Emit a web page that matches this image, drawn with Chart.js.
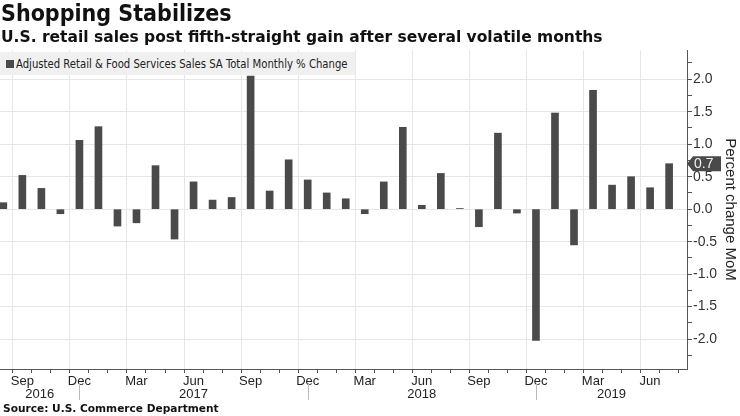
<!DOCTYPE html>
<html>
<head>
<meta charset="utf-8">
<script src="https://cdn.jsdelivr.net/npm/chart.js@4/dist/chart.umd.min.js"></script>
<style>
  html, body { margin: 0; padding: 0; background: #fff; }
  #wrap { position: relative; width: 740px; height: 416px; overflow: hidden; }
  canvas { position: absolute; left: 0; top: 0; }
  #legend { position: absolute; left: 0; top: 52px; width: 355px; height: 23px; background: #f0f0f0;
            font-family: 'Liberation Sans Narrow', 'DejaVu Sans Condensed', sans-serif; font-size: 12.4px; color: #222;
            line-height: 23px; white-space: nowrap; }
  #legend .sw { position: absolute; left: 6px; top: 8px; width: 8px; height: 8px; background: #4a4a4a; }
  #legend .tx { position: absolute; left: 16px; top: 0; transform: scaleX(0.905); transform-origin: 0 50%; }
</style>
</head>
<body>
<div id="wrap">
  <canvas id="c" width="740" height="416"></canvas>
  <div id="legend"><span class="sw"></span><span class="tx" id="legendText"></span></div>
</div>
<script>
const title = 'Shopping Stabilizes';
const subtitle = 'U.S. retail sales post fifth-straight gain after several volatile months';
const source = 'Source: U.S. Commerce Department';
const seriesName = 'Adjusted Retail & Food Services Sales SA Total Monthly % Change';
const axisTitle = 'Percent change MoM';

const categories = [
  'Aug 2016','Sep 2016','Oct 2016','Nov 2016','Dec 2016',
  'Jan 2017','Feb 2017','Mar 2017','Apr 2017','May 2017','Jun 2017','Jul 2017','Aug 2017','Sep 2017','Oct 2017','Nov 2017','Dec 2017',
  'Jan 2018','Feb 2018','Mar 2018','Apr 2018','May 2018','Jun 2018','Jul 2018','Aug 2018','Sep 2018','Oct 2018','Nov 2018','Dec 2018',
  'Jan 2019','Feb 2019','Mar 2019','Apr 2019','May 2019','Jun 2019','Jul 2019'
];
const values = [
  0.10, 0.52, 0.32, -0.07, 1.06,
  1.27, -0.26, -0.21, 0.67, -0.46, 0.42, 0.14, 0.18, 2.05, 0.28, 0.76, 0.45,
  0.25, 0.16, -0.07, 0.42, 1.26, 0.06, 0.55, 0.01, -0.27, 1.17, -0.06, -2.02,
  1.48, -0.55, 1.83, 0.37, 0.50, 0.33, 0.70
];
const tickMonths = ['Sep', 'Dec', 'Mar', 'Jun'];
const yearLabels = ['2016', '2017', '2018', '2019'];
const yTickLabels = [-2.0, -1.5, -1.0, -0.5, 0.0, 0.5, 1.0, 1.5, 2.0];

document.getElementById('legendText').textContent = seriesName;

const BAR = '#4a4a4a';
const GRID = '#e6e6e6';
const AXIS = '#555';
const TXT = '#222';
const FONT = "'Liberation Sans', Arial, sans-serif";

const monthOf = i => (categories[i] || '').split(' ')[0];
const isMajorY = v => yTickLabels.some(t => Math.abs(t - v) < 1e-6);

const decorations = {
  id: 'decorations',
  afterDraw(chart) {
    const ctx = chart.ctx;
    const xs = chart.scales.x, ys = chart.scales.y;
    const area = chart.chartArea;
    ctx.save();
    // titles
    ctx.fillStyle = '#111';
    ctx.textBaseline = 'alphabetic';
    ctx.textAlign = 'left';
    ctx.font = "bold 23px 'DejaVu Sans Condensed', 'DejaVu Sans', sans-serif";
    ctx.fillText(title, 1, 21);
    ctx.font = "bold 15.5px 'DejaVu Sans', sans-serif";
    ctx.fillText(subtitle, 1, 42);
    ctx.font = "bold 10.6px 'DejaVu Sans', sans-serif";
    ctx.fillText(source, 3, 412);

    // year separators and labels
    const seps = [];
    categories.forEach((c, i) => { if (monthOf(i) === 'Dec') seps.push(xs.getPixelForValue(i)); });
    ctx.strokeStyle = '#bbb';
    ctx.lineWidth = 1;
    seps.forEach(x => {
      ctx.beginPath();
      ctx.moveTo(Math.round(x) + 0.5, area.bottom + 14);
      ctx.lineTo(Math.round(x) + 0.5, area.bottom + 31);
      ctx.stroke();
    });
    const bounds = [area.left, ...seps, area.right];
    ctx.fillStyle = TXT;
    ctx.font = "13px " + FONT;
    ctx.textAlign = 'center';
    ctx.textBaseline = 'middle';
    yearLabels.forEach((y, k) => {
      ctx.fillText(y, (bounds[k] + bounds[k + 1]) / 2, area.bottom + 25);
    });

    // last value callout
    const last = values[values.length - 1];
    const py = ys.getPixelForValue(last);
    const ax = area.right;
    ctx.fillStyle = '#4a4a4a';
    ctx.beginPath();
    ctx.moveTo(ax, py);
    ctx.lineTo(ax + 6, py - 7.5);
    ctx.lineTo(ax + 34, py - 7.5);
    ctx.lineTo(ax + 34, py + 7.5);
    ctx.lineTo(ax + 6, py + 7.5);
    ctx.closePath();
    ctx.fill();
    ctx.fillStyle = '#f2f2f2';
    ctx.font = "14px " + FONT;
    ctx.textAlign = 'left';
    ctx.textBaseline = 'middle';
    ctx.fillText(last.toFixed(1), ax + 7, py + 0.5);
    ctx.restore();
  }
};

new Chart(document.getElementById('c'), {
  type: 'bar',
  data: {
    datasets: [{
      label: seriesName,
      data: values.map((v, i) => ({ x: i, y: v })),
      backgroundColor: BAR,
      barThickness: 7
    }]
  },
  options: {
    responsive: false,
    animation: false,
    devicePixelRatio: 1,
    layout: { padding: { top: 50, left: 0, right: 0, bottom: 0 } },
    plugins: { legend: { display: false }, tooltip: { enabled: false } },
    scales: {
      x: {
        type: 'linear',
        min: -0.175,
        max: 35.94,
        offset: false,
        afterBuildTicks: s => { s.ticks = categories.map((c, i) => ({ value: i })); },
        afterFit: s => { s.height = 47; },
        grid: {
          drawOnChartArea: true,
          color: c => tickMonths.includes(monthOf(c.tick && c.tick.value)) ? GRID : 'rgba(0,0,0,0)',
          tickColor: AXIS,
          tickLength: 4
        },
        border: { color: AXIS, width: 1 },
        ticks: {
          autoSkip: false,
          maxRotation: 0,
          padding: 1,
          color: TXT,
          font: { family: FONT, size: 13 },
          callback: v => tickMonths.includes(monthOf(v)) ? monthOf(v) : ''
        }
      },
      y: {
        position: 'right',
        min: -2.46,
        max: 2.45,
        afterBuildTicks: s => {
          const t = [];
          const step = (yTickLabels[1] - yTickLabels[0]) / 2;
          for (let v = yTickLabels[0] - step; v <= yTickLabels[yTickLabels.length - 1] + step + 1e-9; v += step) {
            t.push({ value: Math.round(v * 100) / 100 });
          }
          s.ticks = t;
        },
        afterFit: s => { s.width = 53; },
        grid: {
          color: c => (c.tick && isMajorY(c.tick.value)) ? GRID : 'rgba(0,0,0,0)',
          tickColor: AXIS,
          tickLength: 5
        },
        border: { color: AXIS, width: 1 },
        ticks: {
          autoSkip: false,
          padding: 1,
          color: '#333',
          font: { family: FONT, size: 14 },
          callback: v => isMajorY(v) ? v.toFixed(1) : ''
        },
        title: {
          display: true,
          text: axisTitle,
          color: TXT,
          font: { family: FONT, size: 15 },
          padding: { top: 1, bottom: 0 }
        }
      }
    }
  },
  plugins: [decorations]
});
</script>
</body>
</html>
